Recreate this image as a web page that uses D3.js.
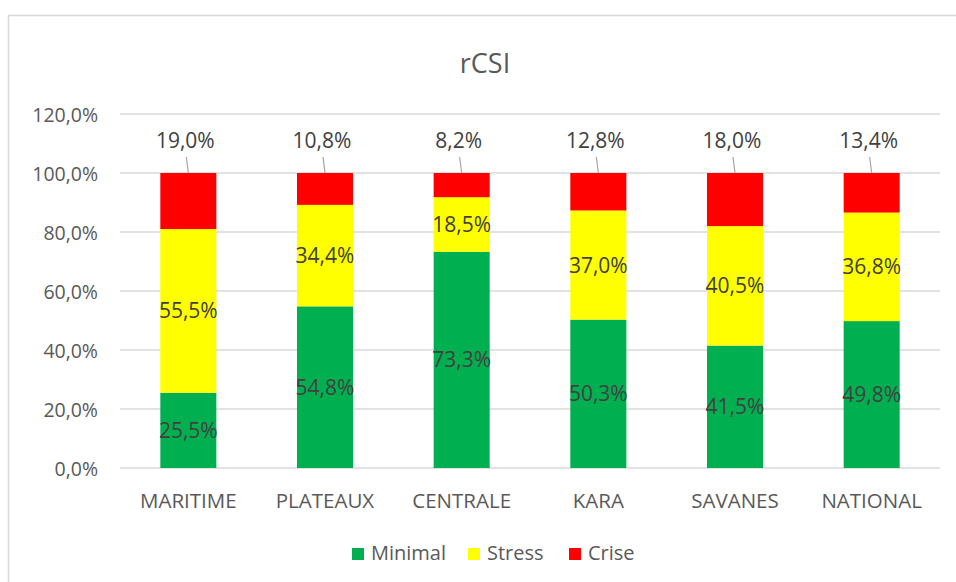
<!DOCTYPE html>
<html>
<head>
<meta charset="utf-8">
<script src="https://cdn.jsdelivr.net/npm/d3@7"></script>
<style>
  body { margin: 0; background: #fff; }
  text { font-family: "Open Sans", "Noto Sans", sans-serif; }
</style>
</head>
<body>
<div id="chart"></div>
<script>
// Données du graphique rCSI
var regions = ["MARITIME", "PLATEAUX", "CENTRALE", "KARA", "SAVANES", "NATIONAL"];
var minimal = [25.5, 54.8, 73.3, 50.3, 41.5, 49.8];
var stress = [55.5, 34.4, 18.5, 37.0, 40.5, 36.8];
var crise = [19.0, 10.8, 8.2, 12.8, 18.0, 13.4];
var seriesNames = ["Minimal", "Stress", "Crise"];
var seriesColors = ["#00B050", "#FFFF00", "#FF0000"];
var yTicks = [0, 20, 40, 60, 80, 100, 120];

var width = 956, height = 582;
var svg = d3.select("#chart").append("svg")
    .attr("width", width)
    .attr("height", height);

// Cadre
svg.append("rect")
    .attr("x", 8.5).attr("y", 15.5)
    .attr("width", 1000).attr("height", 700)
    .attr("fill", "none")
    .attr("stroke", "#d9d9d9")
    .attr("stroke-width", 1.5);

// Titre
svg.append("text")
    .attr("x", 485).attr("y", 73)
    .attr("text-anchor", "middle")
    .attr("font-size", "27px")
    .attr("fill", "#595959")
    .text("rCSI");

var x = d3.scaleBand()
    .domain(regions)
    .range([120, 940])
    .paddingInner(0.59)
    .paddingOuter(0.295);

var y = d3.scaleLinear()
    .domain([0, 120])
    .range([468, 114]);

// Grille
svg.selectAll("line.grid")
    .data(yTicks)
    .enter().append("line")
    .attr("class", "grid")
    .attr("x1", 120).attr("x2", 940)
    .attr("y1", d => y(d)).attr("y2", d => y(d))
    .attr("stroke", "#d9d9d9")
    .attr("stroke-width", 1.5);

// Étiquettes de l'axe Y
svg.selectAll("text.ytick")
    .data(yTicks)
    .enter().append("text")
    .attr("class", "ytick")
    .attr("x", 98)
    .attr("y", d => y(d) + 8)
    .attr("text-anchor", "end")
    .attr("font-size", "19.5px")
    .attr("fill", "#595959")
    .text(d => d3.format(".1f")(d).replace(".", ",") + "%");

// Étiquettes de l'axe X
svg.selectAll("text.xtick")
    .data(regions)
    .enter().append("text")
    .attr("class", "xtick")
    .attr("x", d => x(d) + x.bandwidth() / 2)
    .attr("y", 508)
    .attr("text-anchor", "middle")
    .attr("font-size", "20.5px")
    .attr("fill", "#595959")
    .text(d => d);

// Empilement
var rows = regions.map((r, i) => ({ region: r, Minimal: minimal[i], Stress: stress[i], Crise: crise[i] }));
var stack = d3.stack().keys(seriesNames)(rows);

var fmt = v => d3.format(".1f")(v).replace(".", ",") + "%";

stack.forEach(function(layer, k) {
    var g = svg.append("g");
    g.selectAll("rect")
        .data(layer)
        .enter().append("rect")
        .attr("x", d => x(d.data.region))
        .attr("y", d => y(Math.min(d[1], 100)))
        .attr("width", x.bandwidth())
        .attr("height", d => y(d[0]) - y(Math.min(d[1], 100)))
        .attr("fill", seriesColors[k]);
});

// Étiquettes des segments Minimal et Stress
stack.slice(0, 2).forEach(function(layer) {
    svg.append("g").selectAll("text")
        .data(layer)
        .enter().append("text")
        .attr("x", d => x(d.data.region) + x.bandwidth() / 2)
        .attr("y", d => y((d[0] + d[1]) / 2) + 7.5)
        .attr("text-anchor", "middle")
        .attr("font-size", "21px")
        .attr("fill", "#404040")
        .text(d => fmt(d[1] - d[0]));
});

// Étiquettes Crise au-dessus des barres avec ligne de rappel
var criseLayer = stack[2];
svg.append("g").selectAll("line")
    .data(criseLayer)
    .enter().append("line")
    .attr("x1", d => x(d.data.region) + x.bandwidth() / 2 - 2)
    .attr("y1", 157)
    .attr("x2", d => x(d.data.region) + x.bandwidth() / 2)
    .attr("y2", y(100))
    .attr("stroke", "#a6a6a6")
    .attr("stroke-width", 1.2);

svg.append("g").selectAll("text")
    .data(criseLayer)
    .enter().append("text")
    .attr("x", d => x(d.data.region) + x.bandwidth() / 2 - 3)
    .attr("y", 148)
    .attr("text-anchor", "middle")
    .attr("font-size", "21px")
    .attr("fill", "#404040")
    .text(d => fmt(d[1] - d[0]));

// Légende
var legendX = [352, 468, 569];
var legend = svg.append("g").selectAll("g")
    .data(seriesNames)
    .enter().append("g")
    .attr("transform", (d, i) => "translate(" + legendX[i] + ",548)");
legend.append("rect")
    .attr("width", 12).attr("height", 12)
    .attr("fill", (d, i) => seriesColors[i]);
legend.append("text")
    .attr("x", 19).attr("y", 12)
    .attr("font-size", "20px")
    .attr("fill", "#595959")
    .text(d => d);
</script>
</body>
</html>
